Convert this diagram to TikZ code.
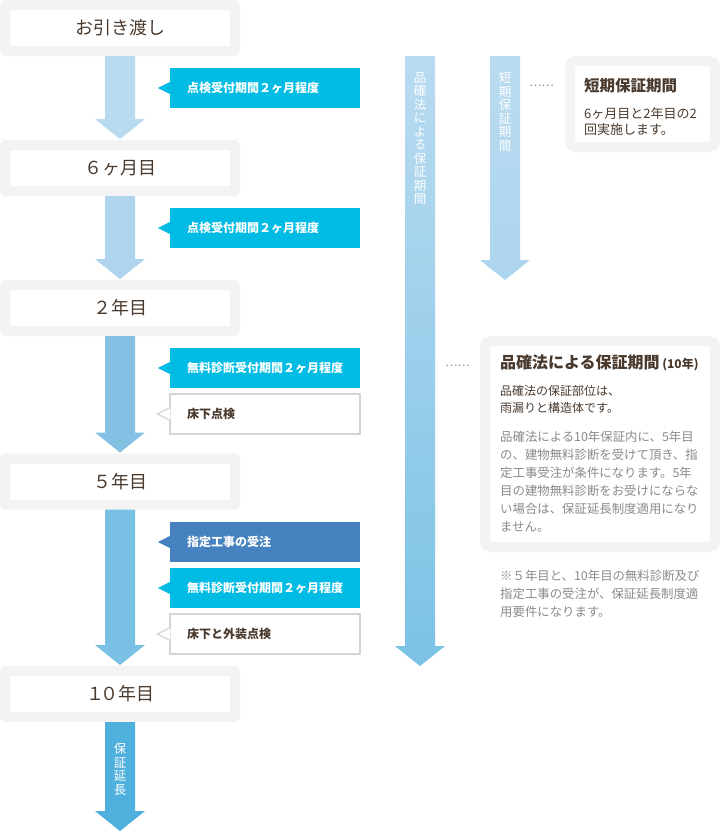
\documentclass[tikz,border=0pt]{standalone}
\usepackage{fontspec}
\newfontfamily\jp{Noto Sans CJK JP}
\usetikzlibrary{calc}
\usetikzlibrary{positioning}

\definecolor{grisfond}{HTML}{F3F3F3}
\definecolor{brun}{HTML}{4A3A2E}
\definecolor{cyanvif}{HTML}{00BCE4}
\definecolor{bleuvif}{HTML}{4682BF}
\definecolor{grisbord}{HTML}{D4D4D4}
\definecolor{grismoyen}{HTML}{8A8A8A}
\definecolor{bleuA}{HTML}{B9DBF0}
\definecolor{bleuB}{HTML}{AFD5EE}
\definecolor{bleuC}{HTML}{84C0E3}
\definecolor{bleuD}{HTML}{79C1E4}
\definecolor{bleuE}{HTML}{4FB0DE}
\definecolor{bleuF}{HTML}{7BC2E5}
\definecolor{bleuG}{HTML}{ACD5EE}

\tikzstyle{etape}    =[fill=white, draw=grisfond, line width=10pt, rounded corners=1pt, minimum width=230pt, minimum height=46pt, inner sep=0pt, text=brun, font=\jp\fontsize{18}{20}\selectfont]
\tikzstyle{bulle}    =[minimum height=40pt, text width=190pt, inner xsep=0pt, inner ysep=0pt, align=left, font=\jp\bfseries\fontsize{12}{14}\selectfont]
\tikzstyle{encadre}  =[fill=white, draw=grisfond, line width=10pt, rounded corners=5pt, inner sep=0pt]
\tikzstyle{vertical} =[text=white, align=center, inner sep=0pt, anchor=north, font=\jp\fontsize{12.5}{13.5}\selectfont]
\tikzstyle{points}   =[text=grismoyen, inner sep=0pt, font=\jp\fontsize{11.5}{12}\selectfont]
\tikzstyle{texte}    =[inner sep=0pt, align=left, font=\jp]

%flèche pleine : #1 départ, #2 pointe, #3 remplissage
\newcommand{\flechebloc}[3]{%
\path[#3] ($(#1)+(-15,0)$) -- ($(#1)+(15,0)$) -- ($(#2)+(15,-20)$) -- ($(#2)+(25,-20)$)
  -- (#2) -- ($(#2)+(-25,-20)$) -- ($(#2)+(-15,-20)$) -- cycle;}

\begin{document}
\begin{tikzpicture}[x=1pt,y=-1pt]

\useasboundingbox (0,0) rectangle (720,831);

%%%%%%%%%%%%%%%%%%%%%%%%
%Les étapes
%%%%%%%%%%%%%%%%%%%%%%%%

\node[etape] (s1) at (120,28) {お引き渡し};
\node[etape] (s2) at (120,168) {６ヶ月目};
\node[etape] (s3) at (120,308) {２年目};
\node[etape] (s4) at (120,481.5) {５年目};
\node[etape] (s5) at (120,694) {１\kern-4pt０年目};

%flèches entre les étapes (les ancres tiennent compte du bord épais)
\foreach \a/\b/\c in {s1/s2/bleuA, s2/s3/bleuB, s3/s4/bleuC, s4/s5/bleuD}{
  \coordinate (h\a) at (\a.south);
  \coordinate (p\b) at ($(\b.north)+(0,-1)$);
  \flechebloc{h\a}{p\b}{fill=\c}
}

%prolongation
\coordinate (hs5) at (s5.south);
\coordinate (fin) at (120,831);
\flechebloc{hs5}{fin}{fill=bleuE}
\node[vertical] (txtE) at (120,743) {保\\証\\延\\長};

%%%%%%%%%%%%%%%%%%%%%%%%
%Les bulles
%%%%%%%%%%%%%%%%%%%%%%%%

\foreach \nom/\y/\couleur/\texte in {b1/88/cyanvif/点検受付期間２ヶ月程度, b2/228/cyanvif/点検受付期間２ヶ月程度, b3/368/cyanvif/無料診断受付期間２ヶ月程度, b5/542/bleuvif/指定工事の受注, b6/588/cyanvif/無料診断受付期間２ヶ月程度}{
  \node[bulle, fill=\couleur, text=white] (\nom) at (265,\y) {\hspace*{17pt}\texte};
  \fill[\couleur] ($(\nom.west)+(0,-6)$) -- ($(\nom.west)+(-12,0)$) -- ($(\nom.west)+(0,6)$) -- cycle;
}

\foreach \nom/\y/\texte in {b4/414/床下点検, b7/634/床下と外装点検}{
  \node[bulle, fill=white, draw=grisbord, line width=1.3pt, text=brun] (\nom) at (265,\y) {\hspace*{17pt}\texte};
  \fill[white] ($(\nom.west)+(1,-6)$) -- ($(\nom.west)+(-12,0)$) -- ($(\nom.west)+(1,6)$) -- cycle;
  \draw[grisbord, line width=1.3pt] ($(\nom.west)+(0,-6)$) -- ($(\nom.west)+(-12,0)$) -- ($(\nom.west)+(0,6)$);
}

%%%%%%%%%%%%%%%%%%%%%%%%
%Les périodes de garantie
%%%%%%%%%%%%%%%%%%%%%%%%

\coordinate (hautL) at (420,56);
\coordinate (basL) at (420,666);
\flechebloc{hautL}{basL}{top color=bleuA, bottom color=bleuF}
\node[vertical] (txtL) at (420,72) {品\\確\\法\\に\\よ\\る\\保\\証\\期\\間};

\coordinate (hautC) at (505,56);
\coordinate (basC) at (505,280);
\flechebloc{hautC}{basC}{top color=bleuA, bottom color=bleuG}
\node[vertical] (txtC) at (505,72) {短\\期\\保\\証\\期\\間};

\node[points] (pt1) at (541.5,86) {……};
\node[points] (pt2) at (457.5,366) {……};

%cadre garantie courte
\node[encadre, minimum width=145pt, minimum height=86pt] (info1) at (642.5,104) {};
\node[texte, anchor=west, text=brun, font=\jp\bfseries\fontsize{15.5}{18}\selectfont] (titre1) at (584,86) {短期保証期間};
\node[texte, anchor=north west, text=brun, font=\jp\fontsize{13}{16.5}\selectfont] (corps1) at (584,107) {6ヶ月目と2年目の2\\回実施します。};

%cadre garantie 10 ans
\node[encadre, minimum width=230pt, minimum height=206pt] (info2) at (600,444) {};
\node[texte, anchor=west, text=brun, font=\jp\bfseries\fontsize{16}{18}\selectfont] (titre2) at (500,363) {品確法による保証期間\,{\fontsize{12}{14}\selectfont(10年)}};
\node[texte, anchor=north west, text=brun, font=\jp\fontsize{12}{17}\selectfont] (sous2) at (500,385) {品確法の保証部位は、\\雨漏りと構造体です。};
\node[texte, anchor=north west, text=grismoyen, font=\jp\fontsize{12.4}{18}\selectfont] (para2) at (500,431) {品確法による10年保証内に、5年目\\の、建物無料診断を受けて頂き、指\\定工事受注が条件になります。5年\\目の建物無料診断をお受けにならな\\い場合は、保証延長制度適用になり\\ません。};

%remarque
\node[texte, anchor=north west, text=grismoyen, font=\jp\fontsize{12.4}{18}\selectfont] (note) at (500,570) {※５年目と、10年目の無料診断及び\\指定工事の受注が、保証延長制度適\\用要件になります。};

\end{tikzpicture}
\end{document}
